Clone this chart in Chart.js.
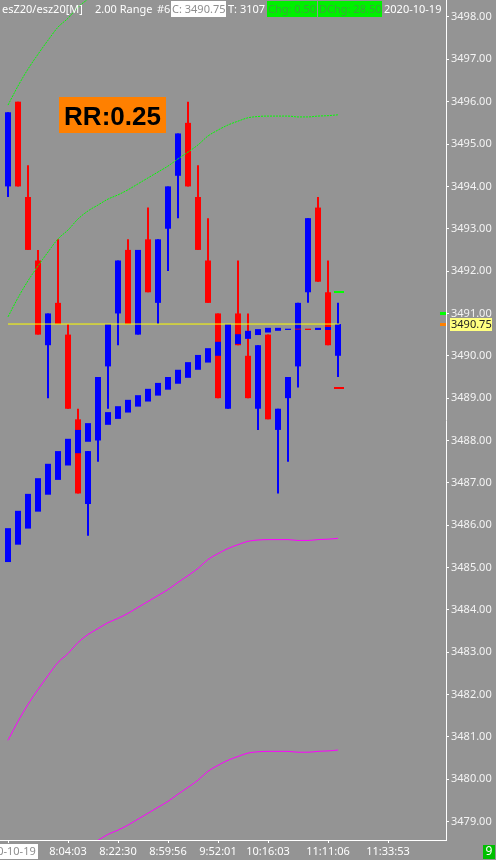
<!DOCTYPE html>
<html><head><meta charset="utf-8">
<script src="https://cdn.jsdelivr.net/npm/chart.js@4.4.1/dist/chart.umd.min.js"></script>
<style>html,body{margin:0;padding:0;background:#949494;overflow:hidden}canvas{display:block}</style>
</head><body>
<canvas id="c" width="496" height="860"></canvas>
<script>
// ---- data ----
const barIndex = [0,1,2,3,4,5,6,7,8,9,10,11,12,13,14,15,16,17,18,19,20,21,22,23,24,25,26,27,28,29,30,31,32,33];
const opens  = [3494.00,3496.00,3493.75,3492.25,3490.25,3491.25,3490.50,3488.50,3486.50,3488.00,3489.75,3491.00,3492.50,3490.50,3492.75,3491.25,3493.00,3494.25,3495.50,3493.75,3492.25,3491.00,3488.75,3491.00,3490.00,3488.75,3490.50,3488.25,3489.00,3489.75,3491.50,3493.50,3491.50,3490.00];
const highs  = [3495.75,3496.00,3494.50,3492.50,3491.00,3492.75,3490.75,3488.75,3487.75,3489.50,3490.75,3492.25,3492.75,3492.50,3493.50,3492.75,3494.00,3495.25,3496.00,3494.50,3493.25,3491.00,3490.75,3492.25,3491.00,3490.25,3490.50,3488.75,3489.50,3491.25,3493.25,3493.75,3492.25,3491.25];
const lows   = [3493.75,3494.00,3492.50,3490.50,3489.00,3490.75,3488.75,3486.75,3485.75,3487.50,3488.75,3490.25,3490.75,3490.50,3491.50,3490.75,3492.00,3493.25,3494.00,3492.50,3491.25,3489.00,3488.75,3490.25,3489.00,3488.25,3488.50,3486.75,3487.50,3489.25,3491.25,3491.75,3490.25,3489.50];
const closes = [3495.75,3494.00,3492.50,3490.50,3491.00,3490.75,3488.75,3486.75,3487.75,3489.50,3490.75,3492.25,3490.75,3492.50,3491.50,3492.75,3494.00,3495.25,3494.00,3492.50,3491.25,3489.00,3490.75,3490.25,3489.00,3490.25,3488.50,3488.75,3489.50,3491.25,3493.25,3491.75,3490.25,3490.75];

// trend indicator drawn as small bars (low / high / direction)
const maLow  = [3485.13,3485.54,3485.92,3486.32,3486.72,3487.07,3487.41,3487.70,3487.97,3488.18,3488.37,3488.51,3488.66,3488.80,3488.92,3489.06,3489.20,3489.34,3489.48,3489.67,3489.84,3490.00,3490.18,3490.28,3490.40,3490.49,3490.55,3490.59,3490.61,3490.62,3490.61,3490.61,3490.61,3490.62];
const maHigh = [3485.93,3486.34,3486.74,3487.11,3487.45,3487.75,3488.04,3488.25,3488.41,3488.55,3488.67,3488.81,3488.96,3489.07,3489.22,3489.36,3489.50,3489.67,3489.85,3490.02,3490.18,3490.33,3490.44,3490.51,3490.59,3490.63,3490.66,3490.66,3490.64,3490.64,3490.64,3490.66,3490.68,3490.70];
const maDir  = ['up','up','up','up','up','up','up','up','up','up','up','up','up','up','up','up','up','up','up','up','up','up','up','up','up','up','up','up','up','down','down','up','up','up'];

// bands
const bandUpperInner = [3490.92,3491.37,3491.77,3492.12,3492.45,3492.76,3492.97,3493.23,3493.42,3493.56,3493.70,3493.80,3493.92,3494.06,3494.20,3494.34,3494.48,3494.65,3494.81,3494.98,3495.19,3495.33,3495.45,3495.54,3495.62,3495.65,3495.66,3495.66,3495.66,3495.64,3495.64,3495.66,3495.67,3495.69];
const bandUpperOuter = [3495.92,3496.37,3496.77,3497.12,3497.45,3497.76,3497.97,3498.23,3498.42,3498.56,3498.70,3498.80,3498.92,3499.06,3499.20,3499.34,3499.48,3499.65,3499.81,3499.98,3500.19,3500.33,3500.45,3500.54,3500.62,3500.65,3500.66,3500.66,3500.66,3500.64,3500.64,3500.66,3500.67,3500.69];
const bandLowerInner = [3480.92,3481.37,3481.77,3482.12,3482.45,3482.76,3482.97,3483.23,3483.42,3483.56,3483.70,3483.80,3483.92,3484.06,3484.20,3484.34,3484.48,3484.65,3484.81,3484.98,3485.19,3485.33,3485.45,3485.54,3485.62,3485.65,3485.66,3485.66,3485.66,3485.64,3485.64,3485.66,3485.67,3485.69];
const bandLowerOuter = [3475.92,3476.37,3476.77,3477.12,3477.45,3477.76,3477.97,3478.23,3478.42,3478.56,3478.70,3478.80,3478.92,3479.06,3479.20,3479.34,3479.48,3479.65,3479.81,3479.98,3480.19,3480.33,3480.45,3480.54,3480.62,3480.65,3480.66,3480.66,3480.66,3480.64,3480.64,3480.66,3480.67,3480.69];

const lastPrice = 3490.75;
const askMarker = 3491.00;
const rangeUpTarget = 3491.50;
const rangeDownTarget = 3489.25;
const lastPriceLineEnd = [0, 33.15];

const timeTickIndex  = [0, 6, 11, 16, 21, 26, 32, 38];
const timeTickLabels = ['2020-10-19','8:04:03','8:22:30','8:59:56','9:52:01','10:16:03','11:11:06','11:33:53'];
const priceAxisRange = [3478.567, 3498.401];
const priceTickStep = 1;
const indexAxisRange = [-0.8, 43.8];

const headerParts = [
  {t:'esZ20/esz20[M]', x:2},
  {t:'2.00 Range', x:95},
  {t:'#6', x:157},
  {t:'C: 3490.75', x:172, box:[171,226], bg:'#ffffff', fg:'#8e8e8e'},
  {t:'T: 3107', x:228},
  {t:'Chg: 0.50', x:268, box:[267,317], bg:'#00f000', fg:'#38a838'},
  {t:'DChg: 28.50', x:319, box:[318,382], bg:'#00f000', fg:'#38a838'},
  {t:'2020-10-19', x:384}
];
const rrText = 'RR:0.25';
const barsCountText = '9';

// ---- styles ----
const BG = '#949494';
const UP = '#0000ff', DOWN = '#ff0000';
const FONT = '"Noto Sans", sans-serif';

const candleColor = barIndex.map(i => closes[i] >= opens[i] ? UP : DOWN);

const decorations = {
  id: 'decorations',
  beforeDraw(chart) {
    const c = chart.ctx;
    c.save(); c.fillStyle = BG; c.fillRect(0, 0, chart.width, chart.height); c.restore();
  },
  afterDraw(chart) {
    const c = chart.ctx, xs = chart.scales.x, ys = chart.scales.y, ca = chart.chartArea;
    c.save();
    // range targets at last bar
    const xl = xs.getPixelForValue(barIndex[barIndex.length - 1]);
    c.fillStyle = '#00ff00';
    c.fillRect(Math.round(xl) - 4, Math.round(ys.getPixelForValue(rangeUpTarget)) - 1, 10, 2);
    c.fillStyle = '#ff0000';
    c.fillRect(Math.round(xl) - 4, Math.round(ys.getPixelForValue(rangeDownTarget)) - 1, 10, 2);
    // right edge markers
    c.fillStyle = '#00ff00';
    c.fillRect(ca.right - 6, Math.round(ys.getPixelForValue(askMarker)) - 1, 6, 3);
    c.fillStyle = '#ff8000';
    c.fillRect(ca.right - 6, Math.round(ys.getPixelForValue(lastPrice)) - 1, 6, 3);
    // last price box on axis
    const py = ys.getPixelForValue(lastPrice);
    c.fillStyle = '#ffff80';
    c.fillRect(ca.right + 4, Math.round(py) - 6, 42, 13);
    c.fillStyle = '#222222';
    c.font = '11px ' + FONT; c.textAlign = 'left'; c.textBaseline = 'middle';
    c.fillText(lastPrice.toFixed(2), ca.right + 5, Math.round(py) + 0.5);
    // header
    c.textBaseline = 'alphabetic';
    headerParts.forEach(p => {
      if (p.box) { c.fillStyle = p.bg; c.fillRect(p.box[0], 1, p.box[1] - p.box[0], 16); }
      c.fillStyle = p.fg || '#ffffff';
      c.fillText(p.t, p.x, 13);
    });
    // RR box
    c.fillStyle = '#ff8000';
    c.fillRect(59, 97, 107, 36);
    c.fillStyle = '#000000';
    c.font = 'bold 26px "Liberation Sans", sans-serif';
    c.textAlign = 'center';
    c.fillText(rrText, 112.5, 125);
    // first date label on time axis
    const x0 = xs.getPixelForValue(timeTickIndex[0]);
    c.fillStyle = '#ffffff';
    c.fillRect(x0 - 32, 844, 62, 15);
    c.fillStyle = '#8e8e8e';
    c.font = '11px ' + FONT; c.textAlign = 'center'; c.textBaseline = 'middle';
    c.fillText(timeTickLabels[0], x0 - 1, 852);
    // bars count box
    c.fillStyle = '#00c000';
    c.fillRect(483, 845, 12, 14);
    c.fillStyle = '#ffffff';
    c.font = '12px ' + FONT;
    c.fillText(barsCountText, 489, 852);
    c.restore();
  }
};

const datasets = [
  { type: 'line', data: lastPriceLineEnd.map(x => ({x, y: lastPrice})), borderColor: '#ffff00', borderWidth: 1, pointRadius: 0, order: 0 },
  { type: 'line', data: barIndex.map(i => ({x: i, y: bandUpperInner[i]})), borderColor: '#00ff00', borderWidth: 1, borderDash: [2, 1], pointRadius: 0, cubicInterpolationMode: 'monotone', order: 1 },
  { type: 'line', data: barIndex.map(i => ({x: i, y: bandUpperOuter[i]})), borderColor: '#00ff00', borderWidth: 1, borderDash: [2, 1], pointRadius: 0, cubicInterpolationMode: 'monotone', order: 1 },
  { type: 'line', data: barIndex.map(i => ({x: i, y: bandLowerInner[i]})), borderColor: '#ff00ff', borderWidth: 1, pointRadius: 0, cubicInterpolationMode: 'monotone', order: 1 },
  { type: 'line', data: barIndex.map(i => ({x: i, y: bandLowerOuter[i]})), borderColor: '#ff00ff', borderWidth: 1, pointRadius: 0, cubicInterpolationMode: 'monotone', order: 1 },
  { type: 'bar', data: barIndex.map(i => ({x: i, y: [maLow[i], maHigh[i]]})), backgroundColor: maDir.map(d => d === 'up' ? UP : DOWN), maxBarThickness: 6, grouped: false, inflateAmount: 0, borderWidth: 0, order: 2 },
  { type: 'bar', data: barIndex.map(i => ({x: i, y: [opens[i], closes[i]]})), backgroundColor: candleColor, maxBarThickness: 6, grouped: false, inflateAmount: 0, borderWidth: 0, order: 3 },
  { type: 'bar', data: barIndex.map(i => ({x: i, y: [lows[i], highs[i]]})), backgroundColor: candleColor, maxBarThickness: 2, grouped: false, inflateAmount: 0, borderWidth: 0, order: 4 }
];

new Chart(document.getElementById('c'), {
  type: 'bar',
  data: { datasets },
  plugins: [decorations],
  options: {
    responsive: false,
    animation: false,
    devicePixelRatio: 1,
    layout: { padding: 0, autoPadding: false },
    plugins: { legend: { display: false }, tooltip: { enabled: false } },
    scales: {
      x: {
        type: 'linear', position: 'bottom', offset: false,
        min: indexAxisRange[0], max: indexAxisRange[1],
        afterBuildTicks: s => { s.ticks = timeTickIndex.map(v => ({value: v})); },
        afterFit: s => { s.height = 20; s.paddingLeft = 0; s.paddingRight = 0; },
        grid: { drawOnChartArea: false, offset: false, color: '#ffffff', tickLength: 3 },
        border: { color: '#ffffff', width: 1 },
        ticks: {
          autoSkip: false, maxRotation: 0, minRotation: 0, padding: 2,
          color: '#ffffff', font: { family: FONT, size: 11 },
          callback: (v, i) => i === 0 ? '' : timeTickLabels[i]
        }
      },
      y: {
        type: 'linear', position: 'right',
        min: priceAxisRange[0], max: priceAxisRange[1],
        afterFit: s => { s.width = 50; s.paddingTop = 0; s.paddingBottom = 0; },
        grid: { drawOnChartArea: false, color: '#ffffff', tickLength: 3 },
        border: { color: '#ffffff', width: 1 },
        ticks: {
          stepSize: priceTickStep, includeBounds: false, padding: 2,
          color: '#f4f4f4', font: { family: FONT, size: 11 },
          callback: v => v.toFixed(2)
        }
      }
    }
  }
});
</script>
</body></html>
